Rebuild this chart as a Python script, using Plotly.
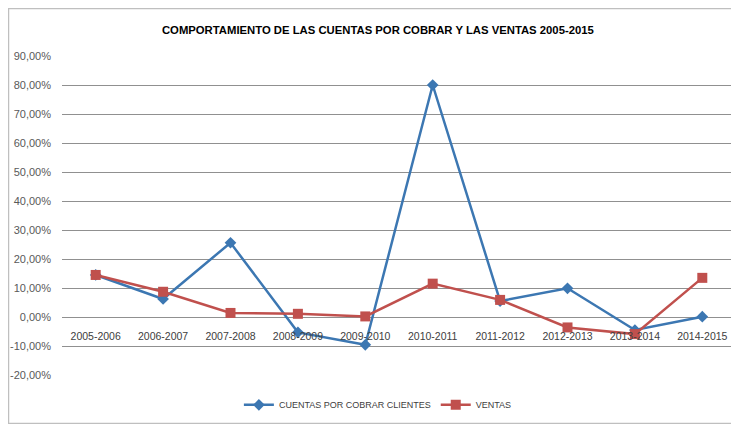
import plotly.graph_objects as go

periodos = ["2005-2006", "2006-2007", "2007-2008", "2008-2009", "2009-2010",
            "2010-2011", "2011-2012", "2012-2013", "2013-2014", "2014-2015"]
cuentas = [14.5, 6.2, 25.6, -5.3, -9.6, 80.0, 5.5, 9.9, -4.5, 0.1]
ventas = [14.5, 8.7, 1.4, 1.1, 0.2, 11.5, 5.9, -3.6, -5.9, 13.5]
y_ticks = [-20, -10, 0, 10, 20, 30, 40, 50, 60, 70, 80, 90]
y_labels = [f"{v:.2f}".replace(".", ",") + "%" for v in y_ticks]

fig = go.Figure()
fig.add_trace(go.Scatter(
    x=periodos, y=cuentas, name="CUENTAS POR COBRAR CLIENTES", mode="lines+markers",
    line=dict(color="#3C77B2", width=2.5),
    marker=dict(symbol="diamond", size=9, color="#3C77B2")))
fig.add_trace(go.Scatter(
    x=periodos, y=ventas, name="VENTAS", mode="lines+markers",
    line=dict(color="#C0504D", width=2.5),
    marker=dict(symbol="square", size=10, color="#C0504D")))

fig.update_layout(
    width=731, height=416,
    margin=dict(l=54, r=3, t=48, b=49, autoexpand=False),
    paper_bgcolor="white", plot_bgcolor="white",
    font=dict(family="Liberation Sans, Arial, sans-serif", color="#595959", size=10.5),
    title=dict(text="<b>COMPORTAMIENTO DE LAS CUENTAS POR COBRAR Y LAS VENTAS 2005-2015</b>",
               x=0.506, xanchor="center", y=0.947, yanchor="middle",
               font=dict(size=11.3, color="#000000", family="Liberation Sans, Arial, sans-serif")),
    showlegend=True,
    legend=dict(orientation="h", xref="container", x=0.506, xanchor="center",
                yref="container", y=0.046, yanchor="middle",
                font=dict(size=9, color="#404040"), itemwidth=30),
    xaxis=dict(anchor="free", position=20 / 110, range=[-0.5, len(periodos) - 0.5],
               showgrid=False, showline=False,
               ticks="", ticklabelstandoff=11, automargin=False,
               tickfont=dict(size=10.5, color="#404040"), zeroline=False),
    yaxis=dict(range=[-20, 90], tickvals=y_ticks, ticktext=y_labels, automargin=False,
               showgrid=True, gridcolor="#909090", gridwidth=1, zeroline=False,
               showline=False, ticks="", ticklabelstandoff=10,
               tickfont=dict(size=11, color="#595959")),
    shapes=[dict(type="rect", xref="paper", yref="paper", x0=-0.0794, x1=1.0037,
                 y0=-0.152, y1=1.149, line=dict(color="#BFBFBF", width=1.5))],
)

fig.write_html("out.html")
